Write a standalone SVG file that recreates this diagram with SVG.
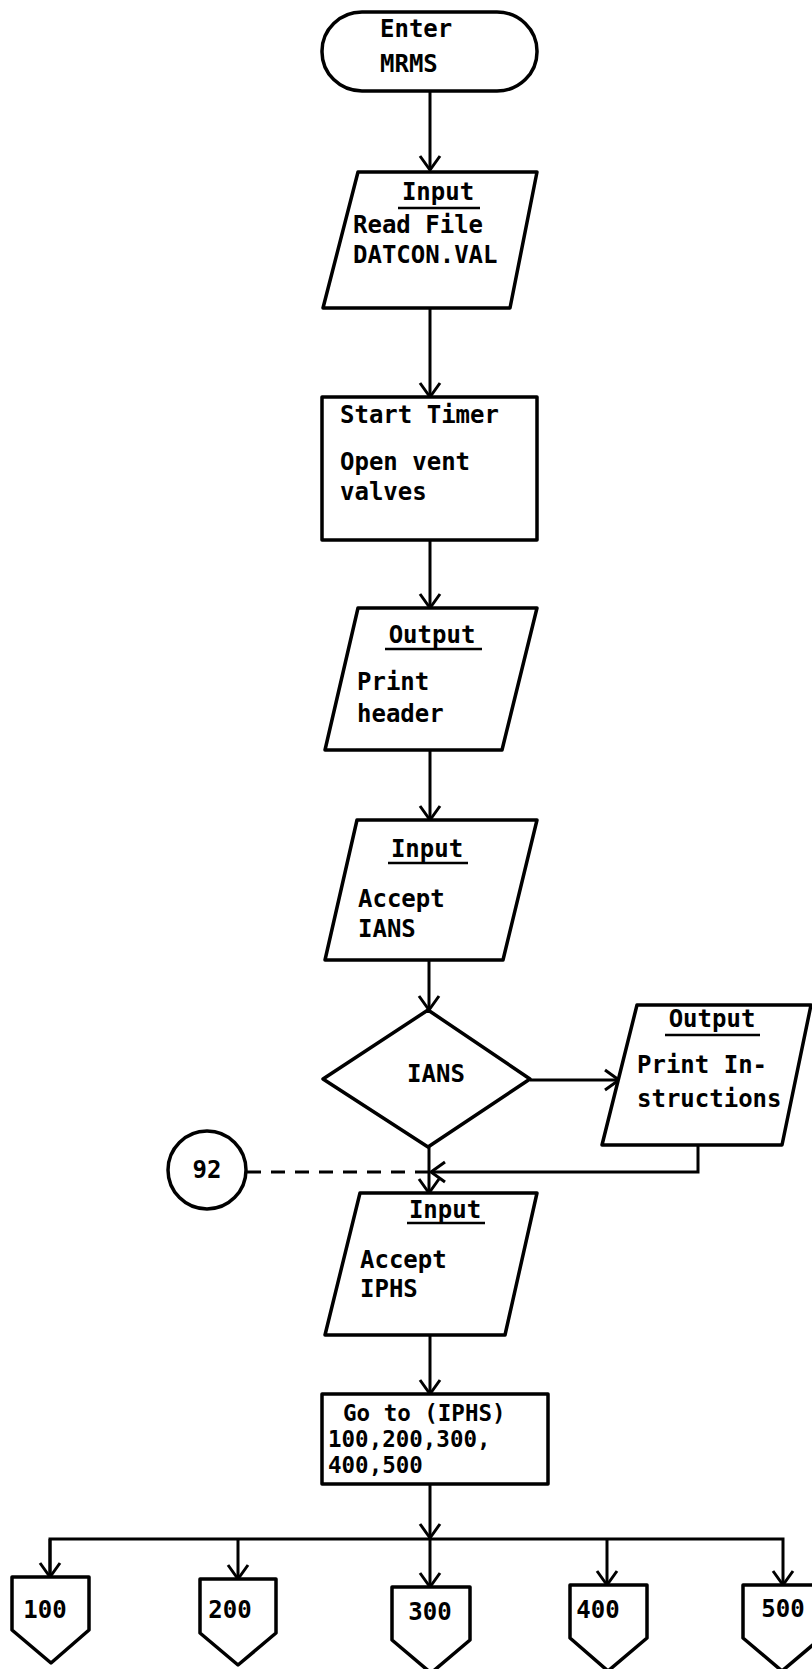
<svg xmlns="http://www.w3.org/2000/svg" width="812" height="1669" viewBox="0 0 812 1669">
<style>
.s{fill:#fff;stroke:#000;stroke-width:3.5;stroke-linejoin:round}
.c{fill:none;stroke:#000;stroke-width:3}
.d{fill:none;stroke:#000;stroke-width:3;stroke-dasharray:14,10}
.u{stroke:#000;stroke-width:2.5}
text{font-family:"DejaVu Sans Mono","Liberation Mono",monospace;font-size:24px;font-weight:bold;fill:#000}
.m{text-anchor:middle}
.t{font-size:22.5px}
</style>
<defs>
<marker id="a" markerUnits="userSpaceOnUse" markerWidth="24" markerHeight="24" viewBox="-16 -12 20 24" refX="0" refY="0" orient="auto">
<path d="M-14,-10 L0,0 L-14,10" fill="none" stroke="#000" stroke-width="3"/>
</marker>
</defs>
<rect width="812" height="1669" fill="#fff"/>
<g id="connectors">
<line class="c" x1="430" y1="91" x2="430" y2="170" marker-end="url(#a)"/>
<line class="c" x1="430" y1="308" x2="430" y2="397" marker-end="url(#a)"/>
<line class="c" x1="430" y1="540" x2="430" y2="608" marker-end="url(#a)"/>
<line class="c" x1="430" y1="750" x2="430" y2="820" marker-end="url(#a)"/>
<line class="c" x1="429" y1="960" x2="429" y2="1010" marker-end="url(#a)"/>
<line class="c" x1="530" y1="1080" x2="619" y2="1080" marker-end="url(#a)"/>
<polyline class="c" points="698,1145 698,1172 431,1172" marker-end="url(#a)"/>
<line class="d" x1="247" y1="1172" x2="428" y2="1172"/>
<line class="c" x1="429" y1="1147" x2="429" y2="1193" marker-end="url(#a)"/>
<line class="c" x1="430" y1="1335" x2="430" y2="1394" marker-end="url(#a)"/>
<line class="c" x1="430" y1="1484" x2="430" y2="1538" marker-end="url(#a)"/>
<line class="c" x1="430" y1="1538" x2="430" y2="1587" marker-end="url(#a)"/>
<polyline class="c" points="50,1577 50,1539 783,1539 783,1585" marker-end="url(#a)"/>
<line class="c" x1="50" y1="1539" x2="50" y2="1577" marker-end="url(#a)"/>
<line class="c" x1="238" y1="1539" x2="238" y2="1579" marker-end="url(#a)"/>
<line class="c" x1="607" y1="1539" x2="607" y2="1585" marker-end="url(#a)"/>
</g>
<g id="enter">
<rect class="s" x="322" y="12" width="215" height="79" rx="40" ry="39"/>
<text x="380" y="37">Enter</text>
<text x="380" y="72">MRMS</text>
</g>
<g id="input1">
<polygon class="s" points="358,172 537,172 510,308 323,308"/>
<text class="m" x="438" y="200">Input</text>
<line class="u" x1="398" y1="208" x2="480" y2="208"/>
<text x="353" y="233">Read File</text>
<text x="353" y="263">DATCON.VAL</text>
</g>
<g id="timer">
<rect class="s" x="322" y="397" width="215" height="143"/>
<text x="340" y="423">Start Timer</text>
<text x="340" y="470">Open vent</text>
<text x="340" y="500">valves</text>
</g>
<g id="output1">
<polygon class="s" points="358,608 537,608 502,750 325,750"/>
<text class="m" x="432" y="643">Output</text>
<line class="u" x1="385" y1="649" x2="482" y2="649"/>
<text x="357" y="690">Print</text>
<text x="357" y="722">header</text>
</g>
<g id="input2">
<polygon class="s" points="357,820 537,820 503,960 325,960"/>
<text class="m" x="427" y="857">Input</text>
<line class="u" x1="388" y1="863" x2="468" y2="863"/>
<text x="358" y="907">Accept</text>
<text x="358" y="937">IANS</text>
</g>
<g id="decision">
<polygon class="s" points="428,1010 530,1079 428,1147 323,1079"/>
<text class="m" x="436" y="1082">IANS</text>
</g>
<g id="output2">
<polygon class="s" points="637,1005 811,1005 782,1145 602,1145"/>
<text class="m" x="712" y="1027">Output</text>
<line class="u" x1="665" y1="1035" x2="760" y2="1035"/>
<text x="637" y="1073">Print In-</text>
<text x="637" y="1107">structions</text>
</g>
<g id="conn92">
<circle class="s" cx="207" cy="1170" r="39"/>
<text class="m" x="207" y="1178">92</text>
</g>
<g id="input3">
<polygon class="s" points="360,1193 537,1193 505,1335 325,1335"/>
<text class="m" x="445" y="1218">Input</text>
<line class="u" x1="407" y1="1223" x2="485" y2="1223"/>
<text x="360" y="1268">Accept</text>
<text x="360" y="1297">IPHS</text>
</g>
<g id="goto">
<rect class="s" x="322" y="1394" width="226" height="90"/>
<text class="t" x="343" y="1421">Go to (IPHS)</text>
<text class="t" x="328" y="1447">100,200,300,</text>
<text class="t" x="328" y="1473">400,500</text>
</g>
<g id="p100">
<polygon class="s" points="12,1577 89,1577 89,1630 51,1663 12,1630"/>
<text class="m" x="45" y="1618">100</text>
</g>
<g id="p200">
<polygon class="s" points="200,1579 276,1579 276,1633 238,1665 200,1633"/>
<text class="m" x="230" y="1618">200</text>
</g>
<g id="p300">
<polygon class="s" points="392,1587 470,1587 470,1640 431,1673 392,1640"/>
<text class="m" x="430" y="1620">300</text>
</g>
<g id="p400">
<polygon class="s" points="570,1585 647,1585 647,1638 608,1671 570,1638"/>
<text class="m" x="598" y="1618">400</text>
</g>
<g id="p500">
<polygon class="s" points="743,1585 821,1585 821,1638 782,1671 743,1638"/>
<text class="m" x="783" y="1617">500</text>
</g>
</svg>
